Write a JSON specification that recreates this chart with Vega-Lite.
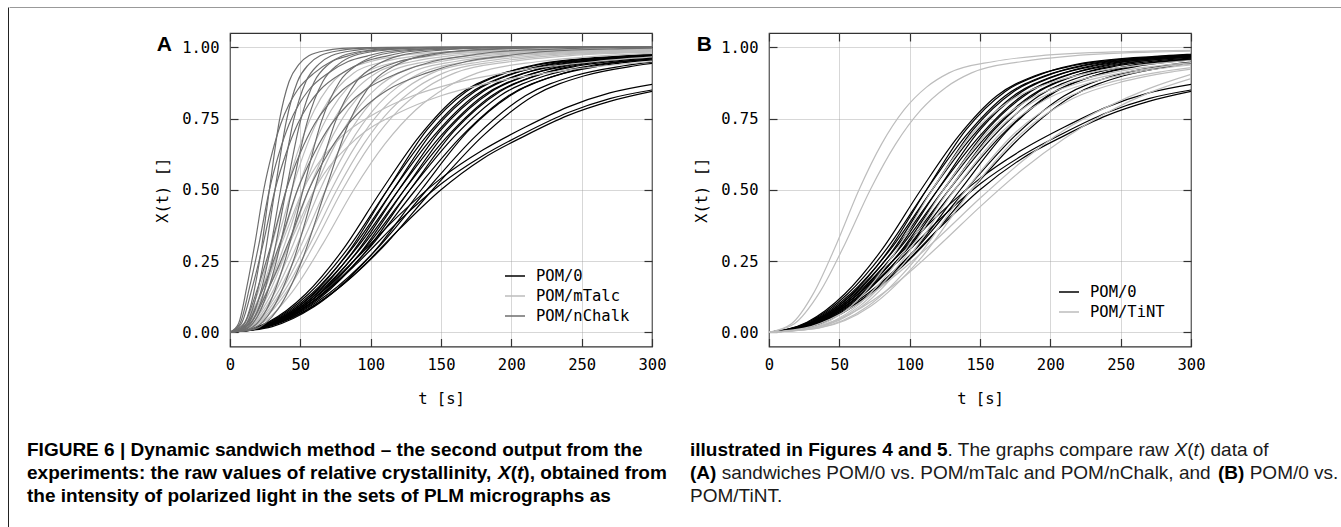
{
"$schema": "https://vega.github.io/schema/vega-lite/v6.json",
"background": "white",
"padding": {"left": 8, "top": 7, "right": 0, "bottom": 0},
"config": {"view": {"stroke": null}},
"datasets": {
"ax": [{"t":0,"x":0},{"t":300,"x":1}],
"k": [
{"i":1,"t":0,"x":0},{"i":1,"t":27,"x":0.035},{"i":1,"t":54,"x":0.135},{"i":1,"t":81,"x":0.295},{"i":1,"t":108,"x":0.5},{"i":1,"t":135,"x":0.69},{"i":1,"t":162,"x":0.83},{"i":1,"t":189,"x":0.9},{"i":1,"t":216,"x":0.935},{"i":1,"t":270,"x":0.965},{"i":1,"t":324,"x":0.98},
{"i":2,"t":0,"x":0},{"i":2,"t":28,"x":0.03},{"i":2,"t":56,"x":0.12},{"i":2,"t":84,"x":0.28},{"i":2,"t":112,"x":0.5},{"i":2,"t":140,"x":0.71},{"i":2,"t":168,"x":0.845},{"i":2,"t":196,"x":0.91},{"i":2,"t":224,"x":0.945},{"i":2,"t":280,"x":0.97},{"i":2,"t":336,"x":0.985},
{"i":3,"t":0,"x":0},{"i":3,"t":28,"x":0.035},{"i":3,"t":56,"x":0.135},{"i":3,"t":84,"x":0.295},{"i":3,"t":112,"x":0.5},{"i":3,"t":140,"x":0.69},{"i":3,"t":168,"x":0.83},{"i":3,"t":196,"x":0.9},{"i":3,"t":224,"x":0.935},{"i":3,"t":280,"x":0.965},{"i":3,"t":336,"x":0.98},
{"i":4,"t":0,"x":0},{"i":4,"t":29,"x":0.03},{"i":4,"t":58,"x":0.12},{"i":4,"t":87,"x":0.28},{"i":4,"t":116,"x":0.5},{"i":4,"t":145,"x":0.71},{"i":4,"t":174,"x":0.845},{"i":4,"t":203,"x":0.91},{"i":4,"t":232,"x":0.945},{"i":4,"t":290,"x":0.97},{"i":4,"t":348,"x":0.985},
{"i":5,"t":0,"x":0},{"i":5,"t":29,"x":0.035},{"i":5,"t":58,"x":0.135},{"i":5,"t":87,"x":0.295},{"i":5,"t":116,"x":0.5},{"i":5,"t":145,"x":0.69},{"i":5,"t":174,"x":0.83},{"i":5,"t":203,"x":0.9},{"i":5,"t":232,"x":0.935},{"i":5,"t":290,"x":0.965},{"i":5,"t":348,"x":0.98},
{"i":6,"t":0,"x":0},{"i":6,"t":30,"x":0.03},{"i":6,"t":60,"x":0.12},{"i":6,"t":90,"x":0.28},{"i":6,"t":120,"x":0.5},{"i":6,"t":150,"x":0.71},{"i":6,"t":180,"x":0.845},{"i":6,"t":210,"x":0.91},{"i":6,"t":240,"x":0.945},{"i":6,"t":300,"x":0.97},
{"i":7,"t":0,"x":0},{"i":7,"t":30,"x":0.035},{"i":7,"t":60,"x":0.135},{"i":7,"t":90,"x":0.295},{"i":7,"t":120,"x":0.5},{"i":7,"t":150,"x":0.69},{"i":7,"t":180,"x":0.83},{"i":7,"t":210,"x":0.9},{"i":7,"t":240,"x":0.935},{"i":7,"t":300,"x":0.965},
{"i":8,"t":0,"x":0},{"i":8,"t":31,"x":0.03},{"i":8,"t":62,"x":0.12},{"i":8,"t":93,"x":0.28},{"i":8,"t":124,"x":0.5},{"i":8,"t":155,"x":0.71},{"i":8,"t":186,"x":0.845},{"i":8,"t":217,"x":0.91},{"i":8,"t":248,"x":0.945},{"i":8,"t":310,"x":0.97},
{"i":9,"t":0,"x":0},{"i":9,"t":31,"x":0.035},{"i":9,"t":62,"x":0.135},{"i":9,"t":93,"x":0.295},{"i":9,"t":124,"x":0.5},{"i":9,"t":155,"x":0.69},{"i":9,"t":186,"x":0.83},{"i":9,"t":217,"x":0.9},{"i":9,"t":248,"x":0.935},{"i":9,"t":310,"x":0.965},
{"i":10,"t":0,"x":0},{"i":10,"t":32,"x":0.035},{"i":10,"t":64,"x":0.135},{"i":10,"t":96,"x":0.295},{"i":10,"t":128,"x":0.5},{"i":10,"t":160,"x":0.69},{"i":10,"t":192,"x":0.83},{"i":10,"t":224,"x":0.9},{"i":10,"t":256,"x":0.935},{"i":10,"t":320,"x":0.965},
{"i":11,"t":0,"x":0},{"i":11,"t":32,"x":0.03},{"i":11,"t":64,"x":0.12},{"i":11,"t":96,"x":0.28},{"i":11,"t":128,"x":0.5},{"i":11,"t":160,"x":0.71},{"i":11,"t":192,"x":0.845},{"i":11,"t":224,"x":0.91},{"i":11,"t":256,"x":0.945},{"i":11,"t":320,"x":0.97},
{"i":12,"t":0,"x":0},{"i":12,"t":33,"x":0.035},{"i":12,"t":66,"x":0.135},{"i":12,"t":99,"x":0.295},{"i":12,"t":132,"x":0.5},{"i":12,"t":165,"x":0.69},{"i":12,"t":198,"x":0.83},{"i":12,"t":231,"x":0.9},{"i":12,"t":264,"x":0.935},{"i":12,"t":330,"x":0.965},
{"i":13,"t":0,"x":0},{"i":13,"t":34,"x":0.03},{"i":13,"t":68,"x":0.12},{"i":13,"t":102,"x":0.28},{"i":13,"t":136,"x":0.5},{"i":13,"t":170,"x":0.71},{"i":13,"t":204,"x":0.845},{"i":13,"t":238,"x":0.91},{"i":13,"t":272,"x":0.945},{"i":13,"t":340,"x":0.97},
{"i":14,"t":0,"x":0},{"i":14,"t":35,"x":0.035},{"i":14,"t":70,"x":0.135},{"i":14,"t":105,"x":0.295},{"i":14,"t":140,"x":0.5},{"i":14,"t":175,"x":0.69},{"i":14,"t":210,"x":0.83},{"i":14,"t":245,"x":0.9},{"i":14,"t":280,"x":0.935},{"i":14,"t":350,"x":0.965},
{"i":15,"t":0,"x":0},{"i":15,"t":36,"x":0.035},{"i":15,"t":72,"x":0.135},{"i":15,"t":108,"x":0.295},{"i":15,"t":144,"x":0.5},{"i":15,"t":180,"x":0.69},{"i":15,"t":216,"x":0.83},{"i":15,"t":252,"x":0.9},{"i":15,"t":288,"x":0.935},{"i":15,"t":360,"x":0.965},
{"i":16,"t":0,"x":0},{"i":16,"t":30,"x":0.025},{"i":16,"t":60,"x":0.11},{"i":16,"t":90,"x":0.24},{"i":16,"t":120,"x":0.39},{"i":16,"t":150,"x":0.52},{"i":16,"t":180,"x":0.62},{"i":16,"t":210,"x":0.7},{"i":16,"t":240,"x":0.77},{"i":16,"t":270,"x":0.82},{"i":16,"t":300,"x":0.85},
{"i":17,"t":0,"x":0},{"i":17,"t":30,"x":0.03},{"i":17,"t":60,"x":0.12},{"i":17,"t":90,"x":0.26},{"i":17,"t":120,"x":0.41},{"i":17,"t":150,"x":0.54},{"i":17,"t":180,"x":0.64},{"i":17,"t":210,"x":0.72},{"i":17,"t":240,"x":0.79},{"i":17,"t":270,"x":0.84},{"i":17,"t":300,"x":0.87},
{"i":18,"t":0,"x":0},{"i":18,"t":30,"x":0.02},{"i":18,"t":60,"x":0.09},{"i":18,"t":90,"x":0.21},{"i":18,"t":120,"x":0.36},{"i":18,"t":150,"x":0.5},{"i":18,"t":180,"x":0.61},{"i":18,"t":210,"x":0.69},{"i":18,"t":240,"x":0.76},{"i":18,"t":270,"x":0.81},{"i":18,"t":300,"x":0.845}
],
"n": [
{"i":1,"t":0,"x":0},{"i":1,"t":6,"x":0.03},{"i":1,"t":12,"x":0.16},{"i":1,"t":18,"x":0.32},{"i":1,"t":24,"x":0.5},{"i":1,"t":30,"x":0.63},{"i":1,"t":36,"x":0.73},{"i":1,"t":42,"x":0.8},{"i":1,"t":48,"x":0.85},{"i":1,"t":60,"x":0.91},{"i":1,"t":72,"x":0.95},{"i":1,"t":84,"x":0.97},{"i":1,"t":96,"x":0.985},{"i":1,"t":120,"x":0.995},{"i":1,"t":144,"x":1},{"i":1,"t":300,"x":1},
{"i":2,"t":0,"x":0},{"i":2,"t":7,"x":0.03},{"i":2,"t":14,"x":0.16},{"i":2,"t":21,"x":0.32},{"i":2,"t":28,"x":0.5},{"i":2,"t":35,"x":0.63},{"i":2,"t":42,"x":0.73},{"i":2,"t":49,"x":0.8},{"i":2,"t":56,"x":0.85},{"i":2,"t":70,"x":0.91},{"i":2,"t":84,"x":0.95},{"i":2,"t":98,"x":0.97},{"i":2,"t":112,"x":0.985},{"i":2,"t":140,"x":0.995},{"i":2,"t":168,"x":1},{"i":2,"t":300,"x":1},
{"i":3,"t":0,"x":0},{"i":3,"t":7,"x":0.01},{"i":3,"t":14,"x":0.08},{"i":3,"t":21,"x":0.25},{"i":3,"t":28,"x":0.5},{"i":3,"t":35,"x":0.74},{"i":3,"t":42,"x":0.88},{"i":3,"t":49,"x":0.94},{"i":3,"t":56,"x":0.97},{"i":3,"t":70,"x":0.99},{"i":3,"t":84,"x":0.997},{"i":3,"t":112,"x":1},{"i":3,"t":300,"x":1},
{"i":4,"t":0,"x":0},{"i":4,"t":8,"x":0.01},{"i":4,"t":16,"x":0.08},{"i":4,"t":24,"x":0.25},{"i":4,"t":32,"x":0.5},{"i":4,"t":40,"x":0.74},{"i":4,"t":48,"x":0.88},{"i":4,"t":56,"x":0.94},{"i":4,"t":64,"x":0.97},{"i":4,"t":80,"x":0.99},{"i":4,"t":96,"x":0.997},{"i":4,"t":128,"x":1},{"i":4,"t":300,"x":1},
{"i":5,"t":0,"x":0},{"i":5,"t":9,"x":0.01},{"i":5,"t":18,"x":0.08},{"i":5,"t":27,"x":0.25},{"i":5,"t":36,"x":0.5},{"i":5,"t":45,"x":0.74},{"i":5,"t":54,"x":0.88},{"i":5,"t":63,"x":0.94},{"i":5,"t":72,"x":0.97},{"i":5,"t":90,"x":0.99},{"i":5,"t":108,"x":0.997},{"i":5,"t":144,"x":1},{"i":5,"t":300,"x":1},
{"i":6,"t":0,"x":0},{"i":6,"t":8,"x":0.03},{"i":6,"t":16,"x":0.16},{"i":6,"t":24,"x":0.32},{"i":6,"t":32,"x":0.5},{"i":6,"t":40,"x":0.63},{"i":6,"t":48,"x":0.73},{"i":6,"t":56,"x":0.8},{"i":6,"t":64,"x":0.85},{"i":6,"t":80,"x":0.91},{"i":6,"t":96,"x":0.95},{"i":6,"t":112,"x":0.97},{"i":6,"t":128,"x":0.985},{"i":6,"t":160,"x":0.995},{"i":6,"t":192,"x":1},{"i":6,"t":300,"x":1},
{"i":7,"t":0,"x":0},{"i":7,"t":10,"x":0.01},{"i":7,"t":20,"x":0.08},{"i":7,"t":30,"x":0.25},{"i":7,"t":40,"x":0.5},{"i":7,"t":50,"x":0.74},{"i":7,"t":60,"x":0.88},{"i":7,"t":70,"x":0.94},{"i":7,"t":80,"x":0.97},{"i":7,"t":100,"x":0.99},{"i":7,"t":120,"x":0.997},{"i":7,"t":160,"x":1},{"i":7,"t":300,"x":1},
{"i":8,"t":0,"x":0},{"i":8,"t":11,"x":0.01},{"i":8,"t":22,"x":0.08},{"i":8,"t":33,"x":0.25},{"i":8,"t":44,"x":0.5},{"i":8,"t":55,"x":0.74},{"i":8,"t":66,"x":0.88},{"i":8,"t":77,"x":0.94},{"i":8,"t":88,"x":0.97},{"i":8,"t":110,"x":0.99},{"i":8,"t":132,"x":0.997},{"i":8,"t":176,"x":1},{"i":8,"t":300,"x":1},
{"i":9,"t":0,"x":0},{"i":9,"t":10,"x":0.03},{"i":9,"t":20,"x":0.16},{"i":9,"t":30,"x":0.32},{"i":9,"t":40,"x":0.5},{"i":9,"t":50,"x":0.63},{"i":9,"t":60,"x":0.73},{"i":9,"t":70,"x":0.8},{"i":9,"t":80,"x":0.85},{"i":9,"t":100,"x":0.91},{"i":9,"t":120,"x":0.95},{"i":9,"t":140,"x":0.97},{"i":9,"t":160,"x":0.985},{"i":9,"t":200,"x":0.995},{"i":9,"t":240,"x":1},{"i":9,"t":300,"x":1},
{"i":10,"t":0,"x":0},{"i":10,"t":13,"x":0.01},{"i":10,"t":26,"x":0.08},{"i":10,"t":39,"x":0.25},{"i":10,"t":52,"x":0.5},{"i":10,"t":65,"x":0.74},{"i":10,"t":78,"x":0.88},{"i":10,"t":91,"x":0.94},{"i":10,"t":104,"x":0.97},{"i":10,"t":130,"x":0.99},{"i":10,"t":156,"x":0.997},{"i":10,"t":208,"x":1},{"i":10,"t":300,"x":1},
{"i":11,"t":0,"x":0},{"i":11,"t":12,"x":0.03},{"i":11,"t":24,"x":0.16},{"i":11,"t":36,"x":0.32},{"i":11,"t":48,"x":0.5},{"i":11,"t":60,"x":0.63},{"i":11,"t":72,"x":0.73},{"i":11,"t":84,"x":0.8},{"i":11,"t":96,"x":0.85},{"i":11,"t":120,"x":0.91},{"i":11,"t":144,"x":0.95},{"i":11,"t":168,"x":0.97},{"i":11,"t":192,"x":0.985},{"i":11,"t":240,"x":0.995},{"i":11,"t":300,"x":1},
{"i":12,"t":0,"x":0},{"i":12,"t":15,"x":0.01},{"i":12,"t":30,"x":0.08},{"i":12,"t":45,"x":0.25},{"i":12,"t":60,"x":0.5},{"i":12,"t":75,"x":0.74},{"i":12,"t":90,"x":0.88},{"i":12,"t":105,"x":0.94},{"i":12,"t":120,"x":0.97},{"i":12,"t":150,"x":0.99},{"i":12,"t":180,"x":0.997},{"i":12,"t":240,"x":1},{"i":12,"t":300,"x":1},
{"i":13,"t":0,"x":0},{"i":13,"t":14,"x":0.03},{"i":13,"t":28,"x":0.16},{"i":13,"t":42,"x":0.32},{"i":13,"t":56,"x":0.5},{"i":13,"t":70,"x":0.63},{"i":13,"t":84,"x":0.73},{"i":13,"t":98,"x":0.8},{"i":13,"t":112,"x":0.85},{"i":13,"t":140,"x":0.91},{"i":13,"t":168,"x":0.95},{"i":13,"t":196,"x":0.97},{"i":13,"t":224,"x":0.985},{"i":13,"t":280,"x":0.995},{"i":13,"t":300,"x":0.997},
{"i":14,"t":0,"x":0},{"i":14,"t":17,"x":0.01},{"i":14,"t":34,"x":0.08},{"i":14,"t":51,"x":0.25},{"i":14,"t":68,"x":0.5},{"i":14,"t":85,"x":0.74},{"i":14,"t":102,"x":0.88},{"i":14,"t":119,"x":0.94},{"i":14,"t":136,"x":0.97},{"i":14,"t":170,"x":0.99},{"i":14,"t":204,"x":0.997},{"i":14,"t":272,"x":1},{"i":14,"t":300,"x":1}
],
"m": [
{"i":1,"t":0,"x":0},{"i":1,"t":10,"x":0.03},{"i":1,"t":20,"x":0.14},{"i":1,"t":30,"x":0.31},{"i":1,"t":40,"x":0.5},{"i":1,"t":50,"x":0.66},{"i":1,"t":60,"x":0.78},{"i":1,"t":70,"x":0.86},{"i":1,"t":80,"x":0.91},{"i":1,"t":100,"x":0.95},{"i":1,"t":120,"x":0.97},{"i":1,"t":160,"x":0.985},{"i":1,"t":200,"x":0.99},{"i":1,"t":300,"x":0.995},
{"i":2,"t":0,"x":0},{"i":2,"t":11,"x":0.03},{"i":2,"t":22,"x":0.14},{"i":2,"t":33,"x":0.31},{"i":2,"t":44,"x":0.5},{"i":2,"t":55,"x":0.66},{"i":2,"t":66,"x":0.78},{"i":2,"t":77,"x":0.86},{"i":2,"t":88,"x":0.91},{"i":2,"t":110,"x":0.95},{"i":2,"t":132,"x":0.97},{"i":2,"t":176,"x":0.985},{"i":2,"t":220,"x":0.99},{"i":2,"t":300,"x":0.995},
{"i":3,"t":0,"x":0},{"i":3,"t":12,"x":0.03},{"i":3,"t":24,"x":0.14},{"i":3,"t":36,"x":0.31},{"i":3,"t":48,"x":0.5},{"i":3,"t":60,"x":0.66},{"i":3,"t":72,"x":0.78},{"i":3,"t":84,"x":0.86},{"i":3,"t":96,"x":0.91},{"i":3,"t":120,"x":0.95},{"i":3,"t":144,"x":0.97},{"i":3,"t":192,"x":0.985},{"i":3,"t":240,"x":0.99},{"i":3,"t":300,"x":0.994},
{"i":4,"t":0,"x":0},{"i":4,"t":13,"x":0.03},{"i":4,"t":26,"x":0.14},{"i":4,"t":39,"x":0.31},{"i":4,"t":52,"x":0.5},{"i":4,"t":65,"x":0.66},{"i":4,"t":78,"x":0.78},{"i":4,"t":91,"x":0.86},{"i":4,"t":104,"x":0.91},{"i":4,"t":130,"x":0.95},{"i":4,"t":156,"x":0.97},{"i":4,"t":208,"x":0.985},{"i":4,"t":260,"x":0.99},{"i":4,"t":300,"x":0.993},
{"i":5,"t":0,"x":0},{"i":5,"t":14,"x":0.03},{"i":5,"t":28,"x":0.14},{"i":5,"t":42,"x":0.31},{"i":5,"t":56,"x":0.5},{"i":5,"t":70,"x":0.66},{"i":5,"t":84,"x":0.78},{"i":5,"t":98,"x":0.86},{"i":5,"t":112,"x":0.91},{"i":5,"t":140,"x":0.95},{"i":5,"t":168,"x":0.97},{"i":5,"t":224,"x":0.985},{"i":5,"t":280,"x":0.99},{"i":5,"t":300,"x":0.991},
{"i":6,"t":0,"x":0},{"i":6,"t":15,"x":0.03},{"i":6,"t":30,"x":0.14},{"i":6,"t":45,"x":0.31},{"i":6,"t":60,"x":0.5},{"i":6,"t":75,"x":0.66},{"i":6,"t":90,"x":0.78},{"i":6,"t":105,"x":0.86},{"i":6,"t":120,"x":0.91},{"i":6,"t":150,"x":0.95},{"i":6,"t":180,"x":0.97},{"i":6,"t":240,"x":0.985},{"i":6,"t":300,"x":0.99},
{"i":7,"t":0,"x":0},{"i":7,"t":16,"x":0.03},{"i":7,"t":32,"x":0.14},{"i":7,"t":48,"x":0.31},{"i":7,"t":64,"x":0.5},{"i":7,"t":80,"x":0.66},{"i":7,"t":96,"x":0.78},{"i":7,"t":112,"x":0.86},{"i":7,"t":128,"x":0.91},{"i":7,"t":160,"x":0.95},{"i":7,"t":192,"x":0.97},{"i":7,"t":256,"x":0.985},{"i":7,"t":320,"x":0.99},
{"i":8,"t":0,"x":0},{"i":8,"t":17,"x":0.03},{"i":8,"t":34,"x":0.14},{"i":8,"t":51,"x":0.31},{"i":8,"t":68,"x":0.5},{"i":8,"t":85,"x":0.66},{"i":8,"t":102,"x":0.78},{"i":8,"t":119,"x":0.86},{"i":8,"t":136,"x":0.91},{"i":8,"t":170,"x":0.95},{"i":8,"t":204,"x":0.97},{"i":8,"t":272,"x":0.985},{"i":8,"t":340,"x":0.99},
{"i":9,"t":0,"x":0},{"i":9,"t":18,"x":0.03},{"i":9,"t":36,"x":0.14},{"i":9,"t":54,"x":0.31},{"i":9,"t":72,"x":0.5},{"i":9,"t":90,"x":0.66},{"i":9,"t":108,"x":0.78},{"i":9,"t":126,"x":0.86},{"i":9,"t":144,"x":0.91},{"i":9,"t":180,"x":0.95},{"i":9,"t":216,"x":0.97},{"i":9,"t":288,"x":0.985},{"i":9,"t":360,"x":0.99},
{"i":10,"t":0,"x":0},{"i":10,"t":19,"x":0.03},{"i":10,"t":38,"x":0.14},{"i":10,"t":57,"x":0.31},{"i":10,"t":76,"x":0.5},{"i":10,"t":95,"x":0.66},{"i":10,"t":114,"x":0.78},{"i":10,"t":133,"x":0.86},{"i":10,"t":152,"x":0.91},{"i":10,"t":190,"x":0.95},{"i":10,"t":228,"x":0.97},{"i":10,"t":304,"x":0.985},
{"i":11,"t":0,"x":0},{"i":11,"t":20,"x":0.03},{"i":11,"t":40,"x":0.14},{"i":11,"t":60,"x":0.31},{"i":11,"t":80,"x":0.5},{"i":11,"t":100,"x":0.66},{"i":11,"t":120,"x":0.78},{"i":11,"t":140,"x":0.86},{"i":11,"t":160,"x":0.91},{"i":11,"t":200,"x":0.95},{"i":11,"t":240,"x":0.97},{"i":11,"t":320,"x":0.985},
{"i":12,"t":0,"x":0},{"i":12,"t":22,"x":0.03},{"i":12,"t":44,"x":0.14},{"i":12,"t":66,"x":0.31},{"i":12,"t":88,"x":0.5},{"i":12,"t":110,"x":0.66},{"i":12,"t":132,"x":0.78},{"i":12,"t":154,"x":0.86},{"i":12,"t":176,"x":0.91},{"i":12,"t":220,"x":0.95},{"i":12,"t":264,"x":0.97},{"i":12,"t":352,"x":0.985},
{"i":13,"t":0,"x":0},{"i":13,"t":13,"x":0.05},{"i":13,"t":26,"x":0.18},{"i":13,"t":39,"x":0.34},{"i":13,"t":52,"x":0.5},{"i":13,"t":78,"x":0.68},{"i":13,"t":104,"x":0.77},{"i":13,"t":130,"x":0.83},{"i":13,"t":156,"x":0.87},{"i":13,"t":208,"x":0.92},{"i":13,"t":260,"x":0.95},{"i":13,"t":312,"x":0.97},
{"i":14,"t":0,"x":0},{"i":14,"t":15,"x":0.05},{"i":14,"t":30,"x":0.18},{"i":14,"t":45,"x":0.34},{"i":14,"t":60,"x":0.5},{"i":14,"t":90,"x":0.68},{"i":14,"t":120,"x":0.77},{"i":14,"t":150,"x":0.83},{"i":14,"t":180,"x":0.87},{"i":14,"t":240,"x":0.92},{"i":14,"t":300,"x":0.95}
],
"T": [
{"i":1,"t":0,"x":0},{"i":1,"t":16,"x":0.03},{"i":1,"t":32,"x":0.14},{"i":1,"t":48,"x":0.31},{"i":1,"t":64,"x":0.5},{"i":1,"t":80,"x":0.66},{"i":1,"t":96,"x":0.78},{"i":1,"t":112,"x":0.86},{"i":1,"t":128,"x":0.91},{"i":1,"t":160,"x":0.95},{"i":1,"t":192,"x":0.97},{"i":1,"t":256,"x":0.985},{"i":1,"t":320,"x":0.99},
{"i":2,"t":0,"x":0},{"i":2,"t":18,"x":0.03},{"i":2,"t":36,"x":0.14},{"i":2,"t":54,"x":0.31},{"i":2,"t":72,"x":0.5},{"i":2,"t":90,"x":0.66},{"i":2,"t":108,"x":0.78},{"i":2,"t":126,"x":0.86},{"i":2,"t":144,"x":0.91},{"i":2,"t":180,"x":0.95},{"i":2,"t":216,"x":0.97},{"i":2,"t":288,"x":0.985},{"i":2,"t":360,"x":0.99},
{"i":3,"t":0,"x":0},{"i":3,"t":29,"x":0.015},{"i":3,"t":58,"x":0.09},{"i":3,"t":87,"x":0.26},{"i":3,"t":116,"x":0.5},{"i":3,"t":145,"x":0.7},{"i":3,"t":174,"x":0.82},{"i":3,"t":203,"x":0.88},{"i":3,"t":232,"x":0.915},{"i":3,"t":290,"x":0.95},{"i":3,"t":348,"x":0.97},
{"i":4,"t":0,"x":0},{"i":4,"t":31,"x":0.015},{"i":4,"t":62,"x":0.09},{"i":4,"t":93,"x":0.26},{"i":4,"t":124,"x":0.5},{"i":4,"t":155,"x":0.7},{"i":4,"t":186,"x":0.82},{"i":4,"t":217,"x":0.88},{"i":4,"t":248,"x":0.915},{"i":4,"t":310,"x":0.95},
{"i":5,"t":0,"x":0},{"i":5,"t":32,"x":0.015},{"i":5,"t":64,"x":0.09},{"i":5,"t":96,"x":0.26},{"i":5,"t":128,"x":0.5},{"i":5,"t":160,"x":0.7},{"i":5,"t":192,"x":0.82},{"i":5,"t":224,"x":0.88},{"i":5,"t":256,"x":0.915},{"i":5,"t":320,"x":0.95},
{"i":6,"t":0,"x":0},{"i":6,"t":33,"x":0.015},{"i":6,"t":66,"x":0.09},{"i":6,"t":99,"x":0.26},{"i":6,"t":132,"x":0.5},{"i":6,"t":165,"x":0.7},{"i":6,"t":198,"x":0.82},{"i":6,"t":231,"x":0.88},{"i":6,"t":264,"x":0.915},{"i":6,"t":330,"x":0.95},
{"i":7,"t":0,"x":0},{"i":7,"t":35,"x":0.015},{"i":7,"t":70,"x":0.09},{"i":7,"t":105,"x":0.26},{"i":7,"t":140,"x":0.5},{"i":7,"t":175,"x":0.7},{"i":7,"t":210,"x":0.82},{"i":7,"t":245,"x":0.88},{"i":7,"t":280,"x":0.915},{"i":7,"t":350,"x":0.95},
{"i":8,"t":0,"x":0},{"i":8,"t":36,"x":0.015},{"i":8,"t":72,"x":0.09},{"i":8,"t":108,"x":0.26},{"i":8,"t":144,"x":0.5},{"i":8,"t":180,"x":0.7},{"i":8,"t":216,"x":0.82},{"i":8,"t":252,"x":0.88},{"i":8,"t":288,"x":0.915},{"i":8,"t":360,"x":0.95},
{"i":9,"t":0,"x":0},{"i":9,"t":30,"x":0.015},{"i":9,"t":60,"x":0.07},{"i":9,"t":90,"x":0.17},{"i":9,"t":120,"x":0.3},{"i":9,"t":150,"x":0.44},{"i":9,"t":180,"x":0.57},{"i":9,"t":210,"x":0.68},{"i":9,"t":240,"x":0.77},{"i":9,"t":270,"x":0.84},{"i":9,"t":300,"x":0.89},
{"i":10,"t":0,"x":0},{"i":10,"t":30,"x":0.02},{"i":10,"t":60,"x":0.09},{"i":10,"t":90,"x":0.2},{"i":10,"t":120,"x":0.33},{"i":10,"t":150,"x":0.47},{"i":10,"t":180,"x":0.6},{"i":10,"t":210,"x":0.71},{"i":10,"t":240,"x":0.79},{"i":10,"t":270,"x":0.855},{"i":10,"t":300,"x":0.905}
],
"cap": [
{"w":"b","ln":1,"x":18,"s":"FIGURE 6 | Dynamic sandwich method – the second output from the"},
{"w":"b","ln":2,"x":18,"s":"experiments: the raw values of relative crystallinity,"},
{"w":"bi","ln":2,"x":489,"s":"X"},
{"w":"b","ln":2,"x":501.7,"s":"("},
{"w":"bi","ln":2,"x":508,"s":"t"},
{"w":"b","ln":2,"x":514.3,"s":"), obtained from"},
{"w":"b","ln":3,"x":18,"s":"the intensity of polarized light in the sets of PLM micrographs as"},
{"w":"b","ln":1,"x":681,"s":"illustrated in Figures 4 and 5"},
{"w":"r","ln":1,"x":938.6,"s":". The graphs compare raw"},
{"w":"i","ln":1,"x":1165.6,"s":"X"},
{"w":"r","ln":1,"x":1178.3,"s":"("},
{"w":"i","ln":1,"x":1184.6,"s":"t"},
{"w":"r","ln":1,"x":1189.9,"s":") data of"},
{"w":"b","ln":2,"x":681,"s":"(A)"},
{"w":"r","ln":2,"x":712.7,"s":"sandwiches POM/0 vs. POM/mTalc and POM/nChalk, and"},
{"w":"b","ln":2,"x":1209,"s":"(B)"},
{"w":"r","ln":2,"x":1240.7,"s":"POM/0 vs."},
{"w":"r","ln":3,"x":681,"s":"POM/TiNT."}
]
},
"spacing": 0,
"hconcat": [
{
"width": 1, "height": 520,
"data": {"name": "ax"},
"mark": {"type": "point", "size": 0, "opacity": 0},
"encoding": {"y": {"field": "x", "type": "quantitative", "scale": {"domain": [0, 1]}, "axis": {"domain": true, "domainColor": "#222", "domainWidth": 1, "ticks": false, "labels": false, "grid": false, "title": null, "minExtent": 0}}}
},
{
"spacing": 23,
"vconcat": [
{
"width": 1332, "height": 1,
"data": {"name": "ax"},
"mark": {"type": "point", "size": 0, "opacity": 0},
"encoding": {"x": {"field": "x", "type": "quantitative", "scale": {"domain": [0, 1]}, "axis": {"orient": "top", "domain": true, "domainColor": "#999", "domainWidth": 1, "ticks": false, "labels": false, "grid": false, "title": null, "minExtent": 0}}}
},
{
"spacing": 27,
"resolve": {"scale": {"color": "independent"}, "legend": {"color": "independent"}},
"hconcat": [
{"width": 119, "height": 10, "data": {"name": "ax"}, "mark": {"type": "point", "size": 0, "opacity": 0}},
{
"width": 422, "height": 313.5,
"view": {"stroke": "#333", "strokeWidth": 1.2},
"resolve": {"axis": {"x": "independent", "y": "independent"}},
"layer": [
{"data": {"name": "k"}, "mark": {"type": "line", "interpolate": "monotone", "strokeWidth": 1.2, "clip": true},
"encoding": {
"x": {"field": "t", "type": "quantitative", "scale": {"domain": [0, 300], "nice": false, "zero": false},
"axis": {"values": [0, 50, 100, 150, 200, 250, 300], "grid": true, "gridColor": "#999", "gridDash": [1, 1], "gridWidth": 0.8, "domain": false, "tickSize": -8, "tickColor": "#333", "tickWidth": 1.2, "labelPadding": 19, "labelFont": "DejaVu Sans Mono", "labelFontSize": 15.5, "labelColor": "#000", "labelFlush": false, "title": "t [s]", "titleFont": "DejaVu Sans Mono", "titleFontSize": 15.5, "titleFontWeight": "normal", "titleColor": "#000", "titlePadding": 18}},
"y": {"field": "x", "type": "quantitative", "scale": {"domain": [-0.05, 1.05], "nice": false, "zero": false},
"axis": {"values": [0, 0.25, 0.5, 0.75, 1], "format": ".2f", "grid": true, "gridColor": "#999", "gridDash": [1, 1], "gridWidth": 0.8, "domain": false, "tickSize": -8, "tickColor": "#333", "tickWidth": 1.2, "labelPadding": 19, "labelFont": "DejaVu Sans Mono", "labelFontSize": 15.5, "labelColor": "#000", "labelFlush": false, "title": "X(t) []", "titleFont": "DejaVu Sans Mono", "titleFontSize": 15.5, "titleFontWeight": "normal", "titleColor": "#000", "titlePadding": 11}},
"detail": {"field": "i", "type": "nominal"},
"color": {"datum": "POM/0", "type": "nominal", "scale": {"domain": ["POM/0", "POM/mTalc", "POM/nChalk"], "range": ["#000000", "#bdbdbd", "#6e6e6e"]},
"legend": {"orient": "bottom-right", "offset": 22, "title": null, "symbolType": "stroke", "symbolSize": 400, "symbolStrokeWidth": 1.5, "labelFont": "DejaVu Sans Mono", "labelFontSize": 15.5, "labelColor": "#000", "labelOffset": 10, "rowPadding": 0, "padding": 0}}
}},
{"data": {"name": "m"}, "mark": {"type": "line", "interpolate": "monotone", "strokeWidth": 1.2, "clip": true},
"encoding": {
"x": {"field": "t", "type": "quantitative", "axis": null},
"y": {"field": "x", "type": "quantitative", "axis": null},
"detail": {"field": "i", "type": "nominal"},
"color": {"datum": "POM/mTalc", "type": "nominal"}
}},
{"data": {"name": "n"}, "mark": {"type": "line", "interpolate": "monotone", "strokeWidth": 1.2, "clip": true},
"encoding": {
"x": {"field": "t", "type": "quantitative", "axis": null},
"y": {"field": "x", "type": "quantitative", "axis": null},
"detail": {"field": "i", "type": "nominal"},
"color": {"datum": "POM/nChalk", "type": "nominal"}
}},
{"data": {"name": "ax"}, "mark": {"type": "point", "size": 0, "opacity": 0},
"encoding": {
"x": {"field": "t", "type": "quantitative", "axis": {"orient": "top", "values": [0, 50, 100, 150, 200, 250, 300], "grid": false, "domain": false, "labels": false, "tickSize": -8, "tickColor": "#333", "tickWidth": 1.2, "title": null}},
"y": {"field": "x", "type": "quantitative", "axis": {"orient": "right", "values": [0, 0.25, 0.5, 0.75, 1], "grid": false, "domain": false, "labels": false, "tickSize": -8, "tickColor": "#333", "tickWidth": 1.2, "title": null}}
}},
{"data": {"values": [{"p": "A"}]},
"mark": {"type": "text", "font": "Liberation Sans", "fontSize": 21, "fontWeight": "bold", "color": "#000", "align": "center", "baseline": "middle"},
"encoding": {
"text": {"field": "p", "type": "nominal"},
"x": {"datum": -46.6, "type": "quantitative", "axis": null},
"y": {"datum": 1.007, "type": "quantitative", "axis": null}
}}
]
},
{
"width": 422, "height": 313.5,
"view": {"stroke": "#333", "strokeWidth": 1.2},
"resolve": {"axis": {"x": "independent", "y": "independent"}},
"layer": [
{"data": {"name": "k"}, "mark": {"type": "line", "interpolate": "monotone", "strokeWidth": 1.2, "clip": true},
"encoding": {
"x": {"field": "t", "type": "quantitative", "scale": {"domain": [0, 300], "nice": false, "zero": false},
"axis": {"values": [0, 50, 100, 150, 200, 250, 300], "grid": true, "gridColor": "#999", "gridDash": [1, 1], "gridWidth": 0.8, "domain": false, "tickSize": -8, "tickColor": "#333", "tickWidth": 1.2, "labelPadding": 19, "labelFont": "DejaVu Sans Mono", "labelFontSize": 15.5, "labelColor": "#000", "labelFlush": false, "title": "t [s]", "titleFont": "DejaVu Sans Mono", "titleFontSize": 15.5, "titleFontWeight": "normal", "titleColor": "#000", "titlePadding": 18}},
"y": {"field": "x", "type": "quantitative", "scale": {"domain": [-0.05, 1.05], "nice": false, "zero": false},
"axis": {"values": [0, 0.25, 0.5, 0.75, 1], "format": ".2f", "grid": true, "gridColor": "#999", "gridDash": [1, 1], "gridWidth": 0.8, "domain": false, "tickSize": -8, "tickColor": "#333", "tickWidth": 1.2, "labelPadding": 19, "labelFont": "DejaVu Sans Mono", "labelFontSize": 15.5, "labelColor": "#000", "labelFlush": false, "title": "X(t) []", "titleFont": "DejaVu Sans Mono", "titleFontSize": 15.5, "titleFontWeight": "normal", "titleColor": "#000", "titlePadding": 11}},
"detail": {"field": "i", "type": "nominal"},
"color": {"datum": "POM/0", "type": "nominal", "scale": {"domain": ["POM/0", "POM/TiNT"], "range": ["#000000", "#bdbdbd"]},
"legend": {"orient": "bottom-right", "offset": 26, "title": null, "symbolType": "stroke", "symbolSize": 400, "symbolStrokeWidth": 1.5, "labelFont": "DejaVu Sans Mono", "labelFontSize": 15.5, "labelColor": "#000", "labelOffset": 10, "rowPadding": 0, "padding": 0}}
}},
{"data": {"name": "T"}, "mark": {"type": "line", "interpolate": "monotone", "strokeWidth": 1.2, "clip": true},
"encoding": {
"x": {"field": "t", "type": "quantitative", "axis": null},
"y": {"field": "x", "type": "quantitative", "axis": null},
"detail": {"field": "i", "type": "nominal"},
"color": {"datum": "POM/TiNT", "type": "nominal"}
}},
{"data": {"name": "ax"}, "mark": {"type": "point", "size": 0, "opacity": 0},
"encoding": {
"x": {"field": "t", "type": "quantitative", "axis": {"orient": "top", "values": [0, 50, 100, 150, 200, 250, 300], "grid": false, "domain": false, "labels": false, "tickSize": -8, "tickColor": "#333", "tickWidth": 1.2, "title": null}},
"y": {"field": "x", "type": "quantitative", "axis": {"orient": "right", "values": [0, 0.25, 0.5, 0.75, 1], "grid": false, "domain": false, "labels": false, "tickSize": -8, "tickColor": "#333", "tickWidth": 1.2, "title": null}}
}},
{"data": {"values": [{"p": "B"}]},
"mark": {"type": "text", "font": "Liberation Sans", "fontSize": 21, "fontWeight": "bold", "color": "#000", "align": "center", "baseline": "middle"},
"encoding": {
"text": {"field": "p", "type": "nominal"},
"x": {"datum": -45.9, "type": "quantitative", "axis": null},
"y": {"datum": 1.007, "type": "quantitative", "axis": null}
}}
]
}
]
},
{
"width": 1332, "height": 76.5,
"data": {"name": "cap"},
"encoding": {
"x": {"field": "x", "type": "quantitative", "scale": {"domain": [0, 1332], "nice": false, "zero": false}, "axis": null},
"y": {"field": "ln", "type": "quantitative", "scale": {"domain": [0.174, 3.5], "reverse": true, "nice": false, "zero": false}, "axis": null},
"text": {"field": "s", "type": "nominal"}
},
"layer": [
{"transform": [{"filter": "datum.w == 'b'"}], "mark": {"type": "text", "align": "left", "baseline": "middle", "font": "Liberation Sans", "fontSize": 19, "fontWeight": "bold", "color": "#000"}},
{"transform": [{"filter": "datum.w == 'bi'"}], "mark": {"type": "text", "align": "left", "baseline": "middle", "font": "Liberation Sans", "fontSize": 19, "fontWeight": "bold", "fontStyle": "italic", "color": "#000"}},
{"transform": [{"filter": "datum.w == 'r'"}], "mark": {"type": "text", "align": "left", "baseline": "middle", "font": "Liberation Sans", "fontSize": 19, "fontWeight": "normal", "color": "#1a1a1a"}},
{"transform": [{"filter": "datum.w == 'i'"}], "mark": {"type": "text", "align": "left", "baseline": "middle", "font": "Liberation Sans", "fontSize": 19, "fontWeight": "normal", "fontStyle": "italic", "color": "#1a1a1a"}}
]
}
]
}
]
}
